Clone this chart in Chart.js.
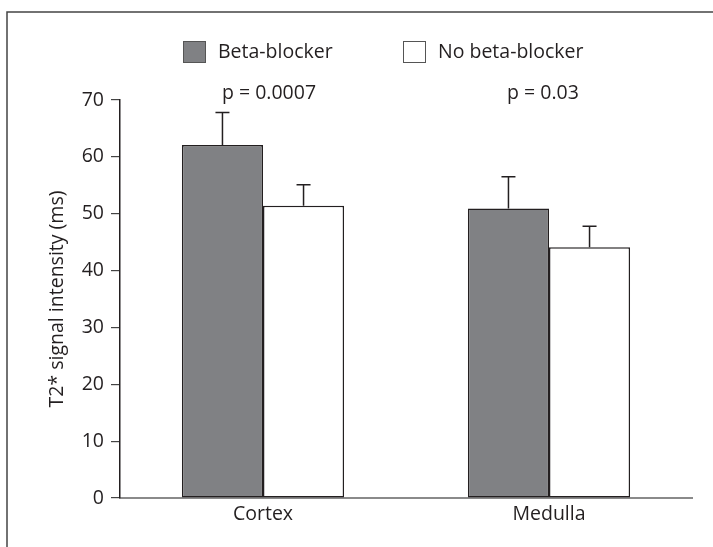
<!DOCTYPE html>
<html>
<head>
<meta charset="utf-8">
<script src="https://cdn.jsdelivr.net/npm/chart.js@4"></script>
<style>
  html, body { margin: 0; padding: 0; background: #fff; }
  #wrap { width: 713px; height: 547px; }
</style>
</head>
<body>
<div id="wrap"><canvas id="chart" width="713" height="547"></canvas></div>
<script>
// data
const categories = ['Cortex', 'Medulla'];
const seriesNames = ['Beta-blocker', 'No beta-blocker'];
const betaBlocker = [62.1, 50.9];
const noBetaBlocker = [51.4, 44.1];
const betaBlockerErr = [5.7, 5.6];
const noBetaBlockerErr = [3.7, 3.7];
const pValues = ['p = 0.0007', 'p = 0.03'];
const yTicks = [0, 10, 20, 30, 40, 50, 60, 70];

const ink = '#231f20';
const fontFamily = '"Open Sans", "Noto Sans", sans-serif';
const fontSize = 19.5;

// frame lines (top + left)
const framePlugin = {
    id: 'frame',
    beforeDraw(chart) {
        const ctx = chart.ctx;
        ctx.save();
        ctx.fillStyle = '#fff';
        ctx.fillRect(0, 0, chart.width, chart.height);
        ctx.strokeStyle = '#444';
        ctx.lineWidth = 1.5;
        ctx.beginPath();
        ctx.moveTo(chart.width, 12);
        ctx.lineTo(7, 12);
        ctx.lineTo(7, chart.height);
        ctx.stroke();
        ctx.restore();
    }
};

// upward error bars with caps
const errorBarPlugin = {
    id: 'errorBars',
    afterDatasetsDraw(chart) {
        const ctx = chart.ctx;
        const y = chart.scales.y;
        const errs = [betaBlockerErr, noBetaBlockerErr];
        ctx.save();
        ctx.strokeStyle = ink;
        ctx.lineWidth = 1.5;
        chart.data.datasets.forEach(function(ds, di) {
            chart.getDatasetMeta(di).data.forEach(function(bar, i) {
                const top = y.getPixelForValue(ds.data[i] + errs[di][i]);
                ctx.beginPath();
                ctx.moveTo(bar.x, bar.y);
                ctx.lineTo(bar.x, top);
                ctx.moveTo(bar.x - 7, top);
                ctx.lineTo(bar.x + 7, top);
                ctx.stroke();
            });
        });
        ctx.restore();
    }
};

// legend and p-value labels
const annotationPlugin = {
    id: 'annotations',
    afterDraw(chart) {
        const ctx = chart.ctx;
        ctx.save();
        ctx.font = fontSize + 'px ' + fontFamily;
        ctx.textBaseline = 'middle';
        ctx.fillStyle = ink;
        // legend
        const legendX = [183, 403];
        chart.data.datasets.forEach(function(ds, di) {
            const lx = legendX[di];
            ctx.fillStyle = ds.backgroundColor;
            ctx.fillRect(lx, 41, 23, 22);
            ctx.strokeStyle = '#555';
            ctx.lineWidth = 1;
            ctx.strokeRect(lx + 0.5, 41.5, 22, 21);
            ctx.fillStyle = ink;
            ctx.textAlign = 'left';
            ctx.fillText(ds.label, lx + 35, 52);
        });
        // p values, roughly over each category group
        const x = chart.scales.x;
        const nudge = [6, -6];
        ctx.textAlign = 'center';
        pValues.forEach(function(p, i) {
            ctx.fillText(p, x.getPixelForValue(i) + nudge[i], 93);
        });
        ctx.restore();
    }
};

new Chart(document.getElementById('chart'), {
    type: 'bar',
    data: {
        labels: categories,
        datasets: [{
            label: seriesNames[0],
            data: betaBlocker,
            backgroundColor: '#808184',
            borderColor: ink,
            borderWidth: 1.5,
            borderSkipped: false,
            categoryPercentage: 0.567,
            barPercentage: 1.0
        }, {
            label: seriesNames[1],
            data: noBetaBlocker,
            backgroundColor: '#ffffff',
            borderColor: ink,
            borderWidth: 1.5,
            borderSkipped: false,
            categoryPercentage: 0.567,
            barPercentage: 1.0
        }]
    },
    options: {
        responsive: false,
        animation: false,
        layout: {
            padding: { left: 0, top: 100, right: 21, bottom: 0 }
        },
        plugins: {
            legend: { display: false },
            tooltip: { enabled: false }
        },
        scales: {
            x: {
                grid: { display: false, drawTicks: false },
                border: { display: true, color: '#8a8a8a', width: 2 },
                ticks: {
                    color: ink,
                    padding: 5,
                    font: { family: fontFamily, size: fontSize }
                },
                afterFit: function(scale) { scale.height = 49; }
            },
            y: {
                min: 0,
                max: 70,
                afterBuildTicks: function(scale) {
                    scale.ticks = yTicks.map(function(v) { return { value: v }; });
                },
                grid: {
                    drawOnChartArea: false,
                    drawTicks: true,
                    tickLength: 9,
                    color: '#444',
                    lineWidth: 1.2
                },
                border: { display: true, color: ink, width: 1.5 },
                ticks: {
                    color: ink,
                    padding: 7,
                    font: { family: fontFamily, size: fontSize }
                },
                title: {
                    display: true,
                    text: 'T2* signal intensity (ms)',
                    color: ink,
                    font: { family: fontFamily, size: fontSize },
                    padding: { top: 46, bottom: 0 }
                },
                afterFit: function(scale) { scale.width = 120; }
            }
        }
    },
    plugins: [framePlugin, errorBarPlugin, annotationPlugin]
});
</script>
</body>
</html>
